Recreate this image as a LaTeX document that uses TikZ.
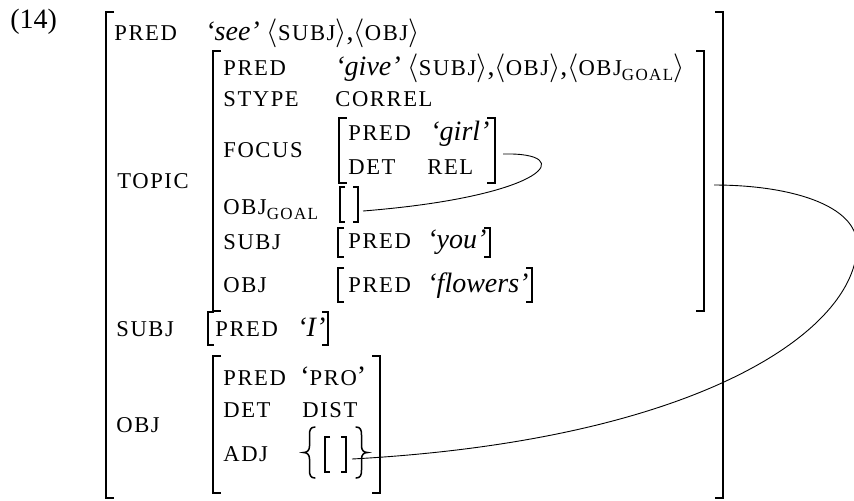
\documentclass[tikz,border=0pt]{standalone}
\usepackage{fontspec}
\setmainfont{Liberation Serif}
\newcommand\smc[1]{{\fontsize{11.3}{13}\selectfont\addfontfeature{LetterSpace=7}#1}}
\newcommand\sub[1]{\raisebox{-0.4ex}{\fontsize{8.5}{10}\selectfont\addfontfeature{LetterSpace=8}#1}}
\newcommand\avmbrackets[6]{% x1 y1 x2 y2 serif width
  \draw[line width=#6] (#1+#5,#2) -- (#1,#2) -- (#1,#4) -- (#1+#5,#4);
  \draw[line width=#6] (#3-#5,#2) -- (#3,#2) -- (#3,#4) -- (#3-#5,#4);}
\tikzset{
  lbl/.style={anchor=base west, inner sep=0pt, font=\fontsize{14}{16}\selectfont},
  setbrace/.style={line width=0.75pt, line cap=round},
  link/.style={line width=0.45pt},
}
\begin{document}
\begin{tikzpicture}[x=0.5pt,y=-0.5pt]
\useasboundingbox (0,0) rectangle (854,500);

% example number
\node[lbl] (num) at (10,28) {(14)};

% outer f-structure
\avmbrackets{106}{12}{723}{498}{8}{1pt}
\node[lbl] (pred0) at (114,40) {\smc{PRED}};
\node[lbl] (see) at (205,40) {\textit{`see'} $\langle$\smc{SUBJ}$\rangle$,$\langle$\smc{OBJ}$\rangle$};
\node[lbl] (topic) at (117,188) {\smc{TOPIC}};
\node[lbl] (subj0) at (116,336) {\smc{SUBJ}};
\node[lbl] (obj0) at (116,432) {\smc{OBJ}};

% topic f-structure
\avmbrackets{213}{51}{704}{311}{8}{1pt}
\node[lbl] (pred1) at (223,75) {\smc{PRED}};
\node[lbl] (give) at (335,75) {\textit{`give'} $\langle$\smc{SUBJ}$\rangle$,$\langle$\smc{OBJ}$\rangle$,$\langle$\smc{OBJ}\sub{GOAL}$\rangle$};
\node[lbl] (stype) at (223,106) {\smc{STYPE}};
\node[lbl] (correl) at (335,106) {\smc{CORREL}};
\node[lbl] (focus) at (223,157) {\smc{FOCUS}};
\node[lbl] (objgoal) at (223,214) {\smc{OBJ}\sub{GOAL}};
\node[lbl] (subj1) at (223,249) {\smc{SUBJ}};
\node[lbl] (obj1) at (223,292) {\smc{OBJ}};

% focus
\avmbrackets{339}{118}{495}{183}{8}{0.75pt}
\node[lbl] (pred2) at (348,140) {\smc{PRED}};
\node[lbl] (girl) at (430,140) {\textit{`girl'}};
\node[lbl] (det2) at (348,174) {\smc{DET}};
\node[lbl] (rel) at (427,174) {\smc{REL}};

% empty goal object
\avmbrackets{340}{187}{358}{222}{5}{0.6pt}

% topic subject and object
\avmbrackets{338}{228}{490}{257}{6}{0.55pt}
\node[lbl] (pred3) at (348,248) {\smc{PRED}};
\node[lbl] (you) at (427,248) {\textit{`you'}};
\avmbrackets{338}{268}{532}{302}{6}{0.55pt}
\node[lbl] (pred4) at (348,292) {\smc{PRED}};
\node[lbl] (flowers) at (427,292) {\textit{`flowers'}};

% outer subject
\avmbrackets{208}{312}{328}{345}{6}{0.55pt}
\node[lbl] (pred5) at (215,336) {\smc{PRED}};
\node[lbl] (iI) at (297,336) {\textit{`I'}};

% outer object
\avmbrackets{213}{356}{380}{493}{8}{1pt}
\node[lbl] (pred6) at (223,385) {\smc{PRED}};
\node[lbl] (pro) at (300,385) {`\smc{PRO}'};
\node[lbl] (det6) at (223,417) {\smc{DET}};
\node[lbl] (dist) at (302,417) {\smc{DIST}};
\node[lbl] (adj) at (223,461) {\smc{ADJ}};

% adjunct set: curly braces around an empty f-structure
\draw[setbrace] (315,427) .. controls (310.5,427) and (309.5,430) .. (309.5,435)
  -- (309.5,446) .. controls (309.5,450) and (307.5,452.5) .. (303.5,452.5)
  .. controls (307.5,452.5) and (309.5,455) .. (309.5,459)
  -- (309.5,470) .. controls (309.5,475) and (310.5,478) .. (315,478);
\draw[setbrace] (356,427) .. controls (360.5,427) and (361.5,430) .. (361.5,435)
  -- (361.5,446) .. controls (361.5,450) and (363.5,452.5) .. (367.5,452.5)
  .. controls (363.5,452.5) and (361.5,455) .. (361.5,459)
  -- (361.5,470) .. controls (361.5,475) and (360.5,478) .. (356,478);
\avmbrackets{325}{437}{346}{472}{5}{0.55pt}

% structure-sharing links
\coordinate (focusR) at (503,154);
\coordinate (goalR) at (363,211);
\coordinate (topicR) at (714,185);
\coordinate (adjR) at (352,459);
\draw[link] (focusR) .. controls (578,152) and (550,196) .. (goalR);
\draw[link] (topicR) .. controls (790,185) and (857,205) .. (857,245)
  .. controls (857,330) and (700,440) .. (adjR);
\end{tikzpicture}
\end{document}
